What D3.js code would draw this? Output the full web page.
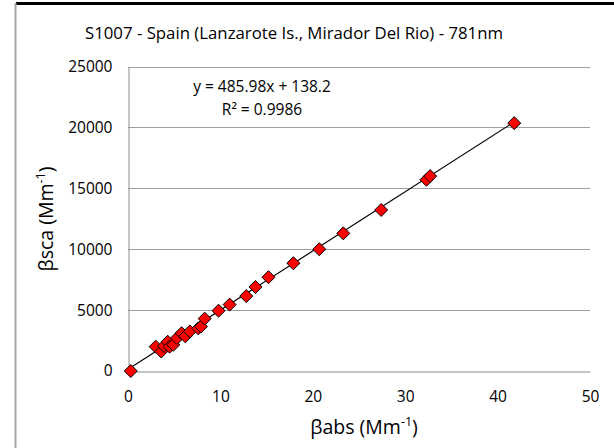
<!DOCTYPE html>
<html>
<head>
<meta charset="utf-8">
<script src="https://cdn.jsdelivr.net/npm/d3@7"></script>
<style>
  html, body { margin: 0; padding: 0; background: #fff; }
  svg { display: block; font-family: "Open Sans", "Noto Sans", sans-serif; }
</style>
</head>
<body>
<svg id="chart" width="614" height="448"></svg>
<script>
// Absorption vs. scattering coefficients, S1007 site, 781 nm
const absValues = [0.3, 3.0, 3.6, 3.9, 4.3, 4.5, 4.9, 5.3, 5.8, 6.2, 6.7, 7.6, 7.9, 8.3,
                   9.8, 11.0, 12.8, 13.8, 15.2, 17.9, 20.7, 23.3, 27.4, 32.3, 32.7, 41.8];
const scaValues = [0, 2000, 1600, 2050, 2400, 2000, 2150, 2700, 3100, 2850, 3250, 3500, 3650, 4300,
                   4950, 5450, 6150, 6900, 7700, 8850, 10000, 11300, 13220, 15700, 16000, 20350];
const xTicks = [0, 10, 20, 30, 40, 50];
const yTicks = [0, 5000, 10000, 15000, 20000, 25000];
const slope = 485.98;
const intercept = 138.2;
const rSquared = 0.9986;
const titleText = "S1007 - Spain (Lanzarote Is., Mirador Del Rio) - 781nm";

const svg = d3.select("#chart");
const plotL = 128, plotR = 590, plotT = 66.5, plotB = 371;

const x = d3.scaleLinear().domain([0, 50]).range([plotL, plotR]);
const y = d3.scaleLinear().domain([0, 25000]).range([plotB, plotT]);

// outer frame
svg.append("rect").attr("x", 16).attr("y", 2).attr("width", 598).attr("height", 3).attr("fill", "#000");
svg.append("rect").attr("x", 14.5).attr("y", 3).attr("width", 2).attr("height", 445).attr("fill", "#a6a6a6");

// gridlines
svg.append("g").selectAll("line").data(yTicks.filter(d => d > 0)).join("line")
  .attr("x1", plotL).attr("x2", plotR)
  .attr("y1", d => Math.round(y(d)) + 0.5).attr("y2", d => Math.round(y(d)) + 0.5)
  .attr("stroke", "#a0a0a0").attr("stroke-width", 1);

// axes
const xAxis = d3.axisBottom(x).tickValues(xTicks).tickFormat(d3.format("d")).tickSize(0).tickPadding(19);
const yAxis = d3.axisLeft(y).tickValues(yTicks).tickFormat(d3.format("d")).tickSize(0).tickPadding(16);

const gx = svg.append("g").attr("transform", `translate(0,${Math.round(plotB) + 0.5})`).call(xAxis);
const gy = svg.append("g").attr("transform", `translate(${plotL + 0.5},0)`).call(yAxis);
[gx, gy].forEach(g => {
  g.select(".domain").attr("stroke", "#8c8c8c");
  g.selectAll("text").attr("font-size", 15.5).attr("fill", "#000")
    .attr("font-family", "'Open Sans', sans-serif");
});

// linear fit
const xMin = d3.min(absValues), xMax = d3.max(absValues);
svg.append("line")
  .attr("x1", x(xMin)).attr("y1", y(slope * xMin + intercept))
  .attr("x2", x(xMax)).attr("y2", y(slope * xMax + intercept))
  .attr("stroke", "#000").attr("stroke-width", 1.2);

// data points
const pts = absValues.map((v, i) => [v, scaValues[i]]);
svg.append("g").selectAll("path").data(pts).join("path")
  .attr("transform", d => `translate(${x(d[0])},${y(d[1])})`)
  .attr("d", "M0,-6.5L6.5,0L0,6.5L-6.5,0Z")
  .attr("fill", "#ff0000").attr("stroke", "#000").attr("stroke-width", 1);

// title
svg.append("text").attr("x", 294).attr("y", 39).attr("text-anchor", "middle")
  .attr("font-size", 16.8).text(titleText);

// regression label
svg.append("text").attr("x", 262).attr("y", 92).attr("text-anchor", "middle")
  .attr("font-size", 15.5).text(`y = ${slope}x + ${intercept}`);
svg.append("text").attr("x", 262).attr("y", 115).attr("text-anchor", "middle")
  .attr("font-size", 15.5).text(`R² = ${rSquared}`);

// axis titles
const xt = svg.append("text").attr("x", 364).attr("y", 434).attr("text-anchor", "middle").attr("font-size", 19.5);
xt.append("tspan").text("βabs (Mm");
xt.append("tspan").attr("font-size", 12.5).attr("dy", -8).text("-1");
xt.append("tspan").attr("dy", 8).text(")");

const yt = svg.append("text").attr("transform", "translate(53,219) rotate(-90)")
  .attr("text-anchor", "middle").attr("font-size", 19.5);
yt.append("tspan").text("βsca (Mm");
yt.append("tspan").attr("font-size", 12.5).attr("dy", -8).text("-1");
yt.append("tspan").attr("dy", 8).text(")");
</script>
</body>
</html>
